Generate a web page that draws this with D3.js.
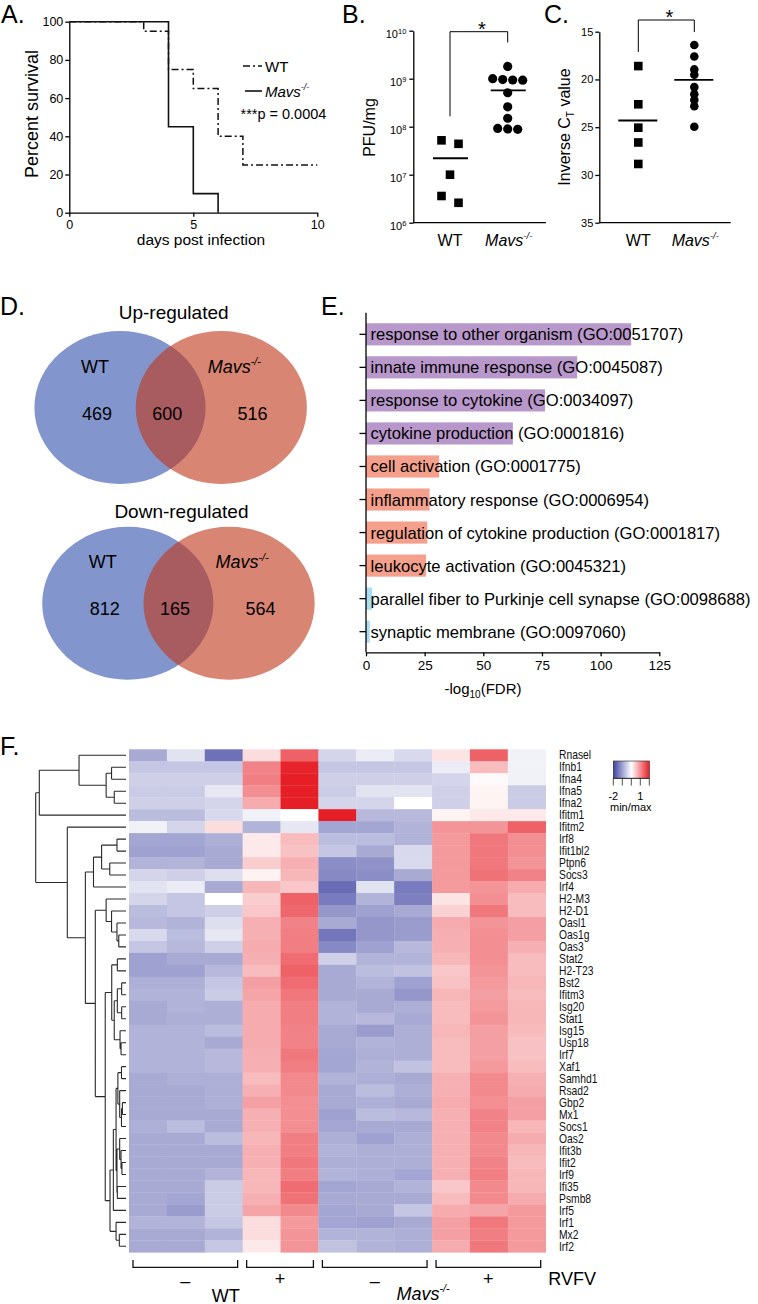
<!DOCTYPE html>
<html>
<head>
<meta charset="utf-8">
<script src="https://cdn.jsdelivr.net/npm/d3@7/dist/d3.min.js"></script>
<style>
html,body{margin:0;padding:0;background:#fff;}
svg{display:block;}
</style>
</head>
<body>
<svg id="fig" width="758" height="1304" xmlns="http://www.w3.org/2000/svg"></svg>
<script>
// ================= DATA =================
// A. survival
const survDaysWT   = [0, 3, 4, 5, 6, 7, 10];
const survPctWT    = [100, 95, 75, 65, 40, 25, 25];
const survDaysMavs = [0, 4, 5, 6];
const survPctMavs  = [100, 45, 10, 0];
const survXTicks   = [0, 5, 10];
const survYTicks   = [0, 20, 40, 60, 80, 100];
const survPText    = "***p = 0.0004";

// B. PFU/mg
const groups   = ["WT", "Mavs"];
const pfuWT    = [5.2e7, 4.4e7, 1.0e7, 3.6e6, 2.6e6];
const pfuMavs  = [1.8e9, 9.3e8, 9.6e8, 9.4e8, 1.0e9, 5.1e8, 2.6e8, 1.5e8, 9.0e7, 9.2e7, 8.8e7];
const pfuMeans = [2.2e7, 5.7e8];
const pfuTicks = [1e6, 1e7, 1e8, 1e9, 1e10];

// C. inverse Ct
const ctWT    = [18.6, 22.6, 25.05, 26.6, 28.85];
const ctMavs  = [16.4, 17.6, 18.95, 19.5, 20.8, 21.55, 22.15, 22.8, 24.95];
const ctMeans = [24.3, 20.05];
const ctTicks = [15, 20, 25, 30, 35];

// D. Venn
const vennTitles   = ["Up-regulated", "Down-regulated"];
const vennWTOnly   = [469, 812];
const vennBoth     = [600, 165];
const vennMavsOnly = [516, 564];

// E. GO enrichment
const goTerms = [
  "response to other organism (GO:0051707)",
  "innate immune response (GO:0045087)",
  "response to cytokine (GO:0034097)",
  "cytokine production (GO:0001816)",
  "cell activation (GO:0001775)",
  "inflammatory response (GO:0006954)",
  "regulation of cytokine production (GO:0001817)",
  "leukocyte activation (GO:0045321)",
  "parallel fiber to Purkinje cell synapse (GO:0098688)",
  "synaptic membrane (GO:0097060)"
];
const goLog10FDR = [113, 90, 76.3, 62.6, 31.2, 27.1, 26.1, 25.6, 2.6, 1.6];
const goClass    = ["a", "a", "a", "a", "b", "b", "b", "b", "c", "c"];
const goTicks    = [0, 25, 50, 75, 100, 125];

// F. heatmap
const genes = ["Rnasel","Ifnb1","Ifna4","Ifna5","Ifna2","Ifitm1","Ifitm2","Irf8","Ifit1bl2","Ptpn6",
  "Socs3","Irf4","H2-M3","H2-D1","Oasl1","Oas1g","Oas3","Stat2","H2-T23","Bst2","Ifitm3","Isg20",
  "Stat1","Isg15","Usp18","Irf7","Xaf1","Samhd1","Rsad2","Gbp2","Mx1","Socs1","Oas2","Ifit3b",
  "Ifit2","Irf9","Ifi35","Psmb8","Irf5","Irf1","Mx2","Irf2"];
const samples        = ["WT-1","WT-2","WT-3","WT+1","WT+2","M-1","M-2","M-3","M+1","M+2","M+3"];
const sampleGenotype = ["WT","WT","WT","WT","WT","Mavs","Mavs","Mavs","Mavs","Mavs","Mavs"];
const sampleRVFV     = ["\u2013","\u2013","\u2013","+","+","\u2013","\u2013","\u2013","+","+","+"];
const heatValues = [
 [-0.9,-0.3,-1.5,0.3,1.4,-0.45,-0.2,-0.4,0.25,1.4,-0.15],
 [-0.6,-0.6,-0.6,1.1,1.95,-0.6,-0.6,-0.6,-0.2,0.6,-0.15],
 [-0.5,-0.5,-0.5,1.15,2.0,-0.5,-0.5,-0.5,-0.45,0.05,-0.15],
 [-0.55,-0.55,-0.25,1.0,2.0,-0.55,-0.3,-0.3,-0.5,0.1,-0.55],
 [-0.5,-0.5,-0.45,0.75,2.0,-0.45,-0.45,0,-0.5,0.1,-0.55],
 [-0.7,-0.7,-0.4,-0.15,0,2.0,-0.75,-0.75,0.1,0.2,0.2],
 [-0.15,-0.45,0.3,-0.8,-0.25,-0.95,-0.95,-0.8,0.95,0.95,1.4],
 [-0.95,-0.95,-0.85,0.2,0.6,-0.7,-0.7,-0.8,0.9,1.2,1.0],
 [-1.0,-1.0,-0.9,0.2,0.55,-0.6,-0.9,-0.4,0.9,1.2,1.0],
 [-0.8,-0.8,-0.9,0.45,0.7,-1.2,-1.15,-0.4,0.9,1.2,0.95],
 [-0.45,-0.5,-0.35,0.12,0.65,-1.25,-1.2,-0.9,0.9,1.25,1.1],
 [-0.3,-0.2,-0.9,0.65,0.5,-1.55,-0.3,-1.4,0.9,0.95,0.75],
 [-0.45,-0.6,0,0.45,1.4,-1.4,-0.8,-1.35,0.25,1.0,0.6],
 [-0.7,-0.6,-0.5,0.5,1.35,-1.1,-1.0,-0.9,0.4,1.2,0.6],
 [-0.75,-0.8,-0.35,0.7,1.1,-0.9,-1.1,-1.05,0.75,0.95,0.85],
 [-0.4,-0.7,-0.25,0.7,1.15,-1.45,-1.1,-1.05,0.7,1.0,0.85],
 [-0.6,-0.75,-0.5,0.75,1.15,-1.25,-1.0,-0.75,0.7,1.0,0.7],
 [-1.0,-0.9,-0.9,0.7,1.3,-0.5,-0.8,-0.8,0.65,1.0,0.6],
 [-1.0,-1.0,-0.75,0.6,1.4,-0.9,-0.7,-0.65,0.5,0.95,0.6],
 [-0.85,-0.85,-0.6,0.85,1.3,-0.9,-0.8,-1.0,0.55,0.9,0.65],
 [-0.8,-0.8,-0.55,0.8,1.2,-0.9,-0.9,-1.1,0.65,0.85,0.6],
 [-0.9,-0.8,-0.85,0.75,1.15,-0.8,-0.9,-0.85,0.6,0.9,0.65],
 [-0.9,-0.85,-0.85,0.75,1.15,-0.8,-0.75,-0.9,0.6,0.95,0.65],
 [-0.8,-0.8,-0.7,0.75,1.1,-0.9,-1.05,-0.85,0.65,0.85,0.6],
 [-0.8,-0.8,-0.9,0.75,1.1,-0.9,-0.8,-0.85,0.6,0.85,0.55],
 [-0.8,-0.8,-0.75,0.7,1.2,-0.95,-0.85,-0.85,0.6,0.85,0.55],
 [-0.8,-0.8,-0.75,0.7,1.15,-0.95,-0.8,-0.65,0.6,0.9,0.6],
 [-0.9,-0.85,-0.85,0.6,1.05,-0.8,-0.85,-0.9,0.7,1.05,0.7],
 [-0.9,-0.9,-0.85,0.7,1.05,-0.9,-0.7,-0.85,0.7,1.05,0.75],
 [-0.9,-0.9,-0.85,0.85,1.0,-0.9,-0.85,-0.9,0.75,1.0,0.85],
 [-0.9,-0.9,-0.9,0.7,1.0,-1.0,-0.7,-0.75,0.7,1.1,0.85],
 [-0.85,-0.7,-0.9,0.7,1.0,-0.95,-0.9,-0.9,0.7,1.1,0.65],
 [-0.9,-0.9,-0.7,0.65,1.15,-0.85,-1.0,-0.85,0.7,1.05,0.75],
 [-0.9,-0.9,-0.9,0.7,1.15,-0.8,-0.85,-0.85,0.7,1.05,0.65],
 [-0.9,-0.9,-0.9,0.7,1.2,-0.85,-0.85,-0.85,0.7,1.1,0.6],
 [-0.9,-0.9,-0.8,0.65,1.15,-0.8,-0.85,-0.95,0.7,1.15,0.65],
 [-0.9,-0.9,-0.55,0.65,1.3,-0.95,-0.9,-0.8,0.5,1.05,0.65],
 [-0.9,-0.95,-0.55,0.7,1.25,-0.9,-0.9,-0.9,0.6,1.05,0.75],
 [-0.9,-1.05,-0.55,0.8,1.05,-0.95,-0.9,-0.6,0.75,0.8,0.9],
 [-0.8,-0.8,-0.6,0.3,0.9,-0.95,-1.0,-0.9,0.85,1.2,0.9],
 [-0.9,-0.9,-0.8,0.3,0.95,-0.8,-0.8,-0.85,0.85,1.15,0.9],
 [-0.9,-0.9,-0.6,0.2,0.95,-0.65,-0.8,-0.85,0.75,1.2,0.9]
];
// dendrogram: [mergeHeight, child, child]; leaves are gene names
const geneTree =
[1.00,
  [0.96,
    [0.52, "Rnasel", [0.22, [0.16, "Ifnb1", "Ifna4"], [0.13, "Ifna5", "Ifna2"]]],
    "Ifitm1"],
  [0.65,
    "Ifitm2",
    [0.45,
      [0.36, [0.27, [0.10, "Irf8", "Ifit1bl2"], [0.18, "Ptpn6", "Socs3"]], "Irf4"],
      [0.34,
        [0.22, "H2-M3", [0.16, "H2-D1", [0.10, "Oasl1", [0.08, "Oas1g", "Oas3"]]]],
        [0.23,
          [0.158, [0.096, "Stat2", "H2-T23"],
                  [0.13, [0.096, [0.048, "Bst2", "Ifitm3"], [0.048, "Isg20", "Stat1"]],
                         [0.066, "Isg15", [0.055, "Usp18", "Irf7"]]]],
          [0.177,
            [0.14,
              [0.11,
                [0.09, [0.05, "Xaf1", "Samhd1"], [0.07, "Rsad2", [0.05, [0.04, "Gbp2", "Mx1"], "Socs1"]]],
                [0.10, [0.07, "Oas2", [0.055, "Ifit3b", [0.045, "Ifit2", "Irf9"]]], [0.096, "Ifi35", "Psmb8"]]],
              "Irf5"],
            [0.11, "Irf1", [0.074, "Mx2", "Irf2"]]]]]]]];
const legendTicks  = [-2, -1, 0, 1, 2];
const legendLabels = ["-2", "", "", "1", ""];

// ================= DRAWING =================
const FONT = "Arial, 'Liberation Sans', Helvetica, sans-serif";
const svg = d3.select("#fig").attr("font-family", FONT);

function styleAxis(g, fs, sw) {
  g.attr("font-family", FONT).attr("font-size", fs);
  g.selectAll("path, line").attr("stroke", "#000").attr("stroke-width", sw || 1.3);
  g.selectAll("text").attr("fill", "#000");
}
function addText(g, x, y, s, size, anchor) {
  return g.append("text").attr("x", x).attr("y", y).attr("font-size", size)
    .attr("text-anchor", anchor || "start").attr("fill", "#000").text(s);
}
function addMavs(g, x, y, size, anchor) {
  const t = g.append("text").attr("x", x).attr("y", y).attr("font-size", size)
    .attr("text-anchor", anchor || "start").attr("font-style", "italic").attr("fill", "#000");
  t.append("tspan").text("Mavs");
  t.append("tspan").attr("dy", -size * 0.42).attr("font-size", size * 0.6).text("-/-");
  return t;
}
function swarm(values, yf, thresh, spacing) {
  const pts = values.map((v, i) => ({ v, i, y: yf(v) })).sort((a, b) => a.y - b.y);
  const out = new Array(values.length);
  let grp = [];
  const flush = () => { grp.forEach((p, k) => { out[p.i] = { v: p.v, y: p.y, dx: (k - (grp.length - 1) / 2) * spacing }; }); grp = []; };
  pts.forEach(p => { if (grp.length && p.y - grp[0].y > thresh) flush(); grp.push(p); });
  flush();
  return out;
}

// panel letters
const letters = svg.append("g").attr("font-size", 25);
[["A.", 1, 23], ["B.", 342, 23], ["C.", 544, 23], ["D.", 0, 315], ["E.", 321, 315], ["F.", 0, 755]]
  .forEach(([s, x, y]) => letters.append("text").attr("x", x).attr("y", y).text(s));

// ---------- A ----------
const gA = svg.append("g");
const xA = d3.scaleLinear().domain([0, 10]).range([69.3, 317.3]);
const yA = d3.scaleLinear().domain([0, 100]).range([212.7, 21.7]);
styleAxis(gA.append("g").attr("transform", `translate(0,${yA(0)})`)
  .call(d3.axisBottom(xA).tickValues(survXTicks).tickSize(4).tickSizeOuter(0).tickPadding(3)), 12.5);
styleAxis(gA.append("g").attr("transform", `translate(${xA(0)},0)`)
  .call(d3.axisLeft(yA).tickValues(survYTicks).tickSize(4).tickSizeOuter(0).tickPadding(2)), 12.5);
const lineA = d3.line().x(d => xA(d[0])).y(d => yA(d[1])).curve(d3.curveStepAfter);
gA.append("path").datum(d3.zip(survDaysWT, survPctWT)).attr("d", lineA)
  .attr("fill", "none").attr("stroke", "#111").attr("stroke-width", 1.5).attr("stroke-dasharray", "7,3,2,3");
gA.append("path").datum(d3.zip(survDaysMavs, survPctMavs)).attr("d", lineA)
  .attr("fill", "none").attr("stroke", "#111").attr("stroke-width", 1.6);
addText(gA, 0, 0, "Percent survival", 18, "middle").attr("transform", "translate(38,114) rotate(-90)");
addText(gA, 201, 245, "days post infection", 15.5, "middle");
// legend
gA.append("line").attr("x1", 243).attr("x2", 262).attr("y1", 66).attr("y2", 66)
  .attr("stroke", "#111").attr("stroke-width", 1.5).attr("stroke-dasharray", "7,3,2,3");
addText(gA, 265, 71.5, "WT", 15);
gA.append("line").attr("x1", 245).attr("x2", 262).attr("y1", 91).attr("y2", 91)
  .attr("stroke", "#111").attr("stroke-width", 1.6);
addMavs(gA, 265, 96.5, 15);
addText(gA, 240.5, 118.5, survPText, 14.5);

// ---------- B ----------
const gB = svg.append("g");
const xB = d3.scalePoint().domain(groups).range([450, 507.7]);
const yB = d3.scaleLog().domain([1e6, 1e10]).range([222.7, 30.7]);
const axB = gB.append("g").attr("transform", "translate(413.3,0)")
  .call(d3.axisLeft(yB).tickValues(pfuTicks).tickSize(4).tickSizeOuter(0).tickPadding(3));
styleAxis(axB, 11);
axB.selectAll(".tick text").each(function (d) {
  const t = d3.select(this).text(null);
  t.append("tspan").text("10");
  t.append("tspan").attr("dy", "-0.55em").attr("font-size", 7.5).text(Math.round(Math.log10(d)));
}).attr("dy", "0.6em");
gB.append("line").attr("x1", 413.3).attr("x2", 546).attr("y1", yB(1e6)).attr("y2", yB(1e6))
  .attr("stroke", "#000").attr("stroke-width", 1.3);
const swWTb = swarm(pfuWT, yB, 8, 17);
gB.selectAll("rect.wt").data(swWTb).join("rect").attr("class", "wt")
  .attr("x", d => xB("WT") + d.dx - 4.3).attr("y", d => d.y - 4.3).attr("width", 8.6).attr("height", 8.6).attr("fill", "#000");
const swMb = swarm(pfuMavs, yB, 8, 10);
gB.selectAll("circle.mv").data(swMb).join("circle").attr("class", "mv")
  .attr("cx", d => xB("Mavs") + d.dx).attr("cy", d => d.y).attr("r", 4.6).attr("fill", "#000");
gB.selectAll("line.mean").data(pfuMeans).join("line").attr("class", "mean")
  .attr("x1", (d, i) => xB(groups[i]) - 17).attr("x2", (d, i) => xB(groups[i]) + 18)
  .attr("y1", d => yB(d)).attr("y2", d => yB(d)).attr("stroke", "#000").attr("stroke-width", 1.8);
{
  const top = yB(1e10) + 1, l = yB(d3.max(pfuWT)) - 24, r = yB(d3.max(pfuMavs)) - 24;
  gB.append("path").attr("d", `M${xB("WT")},${l}V${top}H${xB("Mavs")}V${r}`)
    .attr("fill", "none").attr("stroke", "#000").attr("stroke-width", 1);
  addText(gB, (xB("WT") + xB("Mavs")) / 2 + 3, 35.5, "*", 20, "middle");
}
addText(gB, 0, 0, "PFU/mg", 16, "middle").attr("transform", "translate(375,127.5) rotate(-90)");
addText(gB, xB("WT"), 246, "WT", 16, "middle");
addMavs(gB, xB("Mavs") + 1, 246, 16, "middle");

// ---------- C ----------
const gC = svg.append("g");
const xC = d3.scalePoint().domain(groups).range([638.3, 694.3]);
const yC = d3.scaleLinear().domain([15, 35]).range([31.7, 222.7]);
styleAxis(gC.append("g").attr("transform", "translate(599.3,0)")
  .call(d3.axisLeft(yC).tickValues(ctTicks).tickSize(4).tickSizeOuter(0).tickPadding(2)), 11);
gC.append("line").attr("x1", 599.3).attr("x2", 730.7).attr("y1", yC(35)).attr("y2", yC(35))
  .attr("stroke", "#000").attr("stroke-width", 1.3);
const swWTc = swarm(ctWT, yC, 5, 17);
gC.selectAll("rect.wt").data(swWTc).join("rect").attr("class", "wt")
  .attr("x", d => xC("WT") + d.dx - 4.3).attr("y", d => d.y - 4.3).attr("width", 8.6).attr("height", 8.6).attr("fill", "#000");
const swMc = swarm(ctMavs, yC, 5, 10);
gC.selectAll("circle.mv").data(swMc).join("circle").attr("class", "mv")
  .attr("cx", d => xC("Mavs") + d.dx).attr("cy", d => d.y).attr("r", 4.3).attr("fill", "#000");
gC.selectAll("line.mean").data(ctMeans).join("line").attr("class", "mean")
  .attr("x1", (d, i) => xC(groups[i]) - 20).attr("x2", (d, i) => xC(groups[i]) + 19)
  .attr("y1", d => yC(d)).attr("y2", d => yC(d)).attr("stroke", "#000").attr("stroke-width", 1.8);
{
  const top = 20, l = yC(d3.min(ctWT)) - 14, r = yC(d3.min(ctMavs)) - 13;
  gC.append("path").attr("d", `M${xC("WT")},${l}V${top}H${xC("Mavs")}V${r}`)
    .attr("fill", "none").attr("stroke", "#000").attr("stroke-width", 1);
  addText(gC, (xC("WT") + xC("Mavs")) / 2 + 3, 24, "*", 20, "middle");
}
{
  const t = addText(gC, 0, 0, "", 16, "middle").attr("transform", "translate(570,127) rotate(-90)");
  t.append("tspan").text("Inverse C");
  t.append("tspan").attr("dy", 4).attr("font-size", 10).text("T");
  t.append("tspan").attr("dy", -4).text(" value");
}
addText(gC, xC("WT"), 246, "WT", 16, "middle");
addMavs(gC, xC("Mavs") + 1, 246, 16, "middle");

// ---------- D ----------
const gD = svg.append("g");
const vennCY = d3.scaleOrdinal().domain(vennTitles).range([407.5, 603.3]);
const vennCX = d3.scaleOrdinal().domain(vennTitles).range([120, 127.8]);
const vennSep = 101.3, vennRX = 85.6, vennRY = 76.5;
vennTitles.forEach((title, i) => {
  const cy = vennCY(title), bx = vennCX(title), rx = bx + vennSep;
  gD.append("ellipse").attr("cx", bx).attr("cy", cy).attr("rx", vennRX).attr("ry", vennRY).attr("fill", "#8296CD");
  gD.append("ellipse").attr("cx", rx).attr("cy", cy).attr("rx", vennRX).attr("ry", vennRY)
    .attr("fill", "rgb(193,56,26)").attr("fill-opacity", 0.61);
  addText(gD, (bx + rx) / 2 + 3, cy - 89 + (i ? 4 : 0), title, 19, "middle");
  addText(gD, bx - 25, cy - 35, "WT", 18, "middle");
  addMavs(gD, rx + 13, cy - 35, 18, "middle");
  addText(gD, bx - 23, cy + 12, vennWTOnly[i], 18, "middle");
  addText(gD, (bx + rx) / 2 - 3.5, cy + 12, vennBoth[i], 18, "middle");
  addText(gD, rx + 31.3, cy + 12, vennMavsOnly[i], 18, "middle");
});

// ---------- E ----------
const gE = svg.append("g");
const xE = d3.scaleLinear().domain([0, 125]).range([366, 659.3]);
const yE = d3.scaleBand().domain(goTerms).range([317.8, 648.2]).paddingInner(0.33).paddingOuter(0.165);
const goColor = d3.scaleOrdinal().domain(["a", "b", "c"]).range(["#B897CB", "#F4A08C", "#A8DDF3"]);
gE.selectAll("rect.bar").data(goTerms).join("rect").attr("class", "bar")
  .attr("x", xE(0)).attr("y", d => yE(d)).attr("height", yE.bandwidth())
  .attr("width", (d, i) => xE(goLog10FDR[i]) - xE(0)).attr("fill", (d, i) => goColor(goClass[i]));
gE.selectAll("text.term").data(goTerms).join("text").attr("class", "term")
  .attr("x", xE(0) + 4.5).attr("y", d => yE(d) + yE.bandwidth() / 2 + 6)
  .attr("font-size", 16.6).attr("fill", "#000").text(d => d);
styleAxis(gE.append("g").attr("transform", `translate(0,652.3)`)
  .call(d3.axisBottom(xE).tickValues(goTicks).tickSize(4).tickSizeOuter(0).tickPadding(4)), 13.5);
const axEy = gE.append("g").attr("transform", `translate(${xE(0)},0)`)
  .call(d3.axisLeft(yE).tickSize(6.5).tickSizeOuter(0).tickFormat(""));
styleAxis(axEy, 12);
axEy.select(".domain").attr("d", "M0,312.7V652.3");
{
  const t = addText(gE, 483, 694, "", 15, "middle");
  t.append("tspan").text("-log");
  t.append("tspan").attr("dy", 4).attr("font-size", 10).text("10");
  t.append("tspan").attr("dy", -4).text("(FDR)");
}

// ---------- F ----------
const gF = svg.append("g");
const xF = d3.scaleBand().domain(samples).range([129, 545.7]);
const yF = d3.scaleBand().domain(genes).range([749.3, 1252.3]);
const heatColor = d3.scaleLinear().domain([-2, 0, 2]).range(["#3E42A0", "#ffffff", "#E61E26"]);
const cells = [];
heatValues.forEach((row, r) => row.forEach((v, c) => cells.push({ g: genes[r], s: samples[c], v })));
gF.selectAll("rect.cell").data(cells).join("rect").attr("class", "cell")
  .attr("x", d => xF(d.s)).attr("y", d => yF(d.g))
  .attr("width", xF.bandwidth() + 0.3).attr("height", yF.bandwidth() + 0.3)
  .attr("fill", d => heatColor(d.v));
gF.selectAll("text.gene").data(genes).join("text").attr("class", "gene")
  .attr("transform", d => `translate(559,${yF(d) + yF.bandwidth() / 2 + 4.2}) scale(0.86,1)`)
  .attr("font-size", 12).attr("fill", "#111").text(d => d);

// dendrogram
const xDend = d3.scaleLinear().domain([0, 1]).range([126, 35.7]);
const root = d3.hierarchy(geneTree, d => Array.isArray(d) ? d.slice(1) : null);
root.eachAfter(n => {
  if (!n.children) { n.px = xDend(0); n.py = yF(n.data) + yF.bandwidth() / 2; }
  else { n.px = xDend(n.data[0]); n.py = d3.mean(n.children, c => c.py); }
});
const dendPath = d3.path();
root.each(n => {
  if (!n.children) return;
  const ys = n.children.map(c => c.py);
  dendPath.moveTo(n.px, d3.min(ys)); dendPath.lineTo(n.px, d3.max(ys));
  n.children.forEach(c => { dendPath.moveTo(n.px, c.py); dendPath.lineTo(c.px, c.py); });
});
gF.append("path").attr("d", dendPath.toString()).attr("fill", "none").attr("stroke", "#2a2a2a").attr("stroke-width", 1.1);

// legend
{
  const lx = d3.scaleLinear().domain([-2, 2]).range([613.3, 649.3]);
  const grad = svg.append("defs").append("linearGradient").attr("id", "hmgrad");
  legendTicks.forEach(t => grad.append("stop").attr("offset", (t + 2) / 4).attr("stop-color", heatColor(t)));
  gF.append("rect").attr("x", lx(-2)).attr("y", 761).attr("width", lx(2) - lx(-2)).attr("height", 17.3)
    .attr("fill", "url(#hmgrad)").attr("stroke", "#222").attr("stroke-width", 0.6);
  gF.selectAll("line.lt").data(legendTicks).join("line").attr("class", "lt")
    .attr("x1", d => lx(d)).attr("x2", d => lx(d)).attr("y1", 778.3).attr("y2", 785.5)
    .attr("stroke", "#222").attr("stroke-width", 0.8);
  gF.append("line").attr("x1", lx(-2)).attr("x2", lx(2)).attr("y1", 778.3).attr("y2", 778.3).attr("stroke", "#222").attr("stroke-width", 0.8);
  gF.selectAll("text.ll").data(legendTicks).join("text").attr("class", "ll")
    .attr("x", d => lx(d)).attr("y", 799.5).attr("text-anchor", "middle").attr("font-size", 11)
    .text((d, i) => legendLabels[i]);
  addText(gF, 610, 810.5, "min/max", 11);
}

// group brackets
{
  const runs = [];
  samples.forEach((s, i) => {
    const key = sampleGenotype[i] + sampleRVFV[i];
    if (runs.length && runs[runs.length - 1].key === key) runs[runs.length - 1].last = s;
    else runs.push({ key, geno: sampleGenotype[i], sign: sampleRVFV[i], first: s, last: s });
  });
  runs.forEach(r => {
    const x0 = xF(r.first) + 4, x1 = xF(r.last) + xF.bandwidth() - 5;
    gF.append("path").attr("d", `M${x0},1260V1267.3H${x1}V1260`).attr("fill", "none")
      .attr("stroke", "#111").attr("stroke-width", 1.3);
    addText(gF, (x0 + x1) / 2, r.sign === "+" ? 1285 : 1287, r.sign, 18, "middle");
  });
  const genoX = g => {
    const idx = sampleGenotype.map((v, i) => v === g ? i : -1).filter(i => i >= 0);
    return (xF(samples[idx[0]]) + xF(samples[idx[idx.length - 1]]) + xF.bandwidth()) / 2;
  };
  addText(gF, genoX("WT") + 2, 1301.5, "WT", 18, "middle");
  addMavs(gF, genoX("Mavs") - 9, 1300, 18, "middle");
  addText(gF, 548.3, 1285, "RVFV", 18);
}
</script>
</body>
</html>
